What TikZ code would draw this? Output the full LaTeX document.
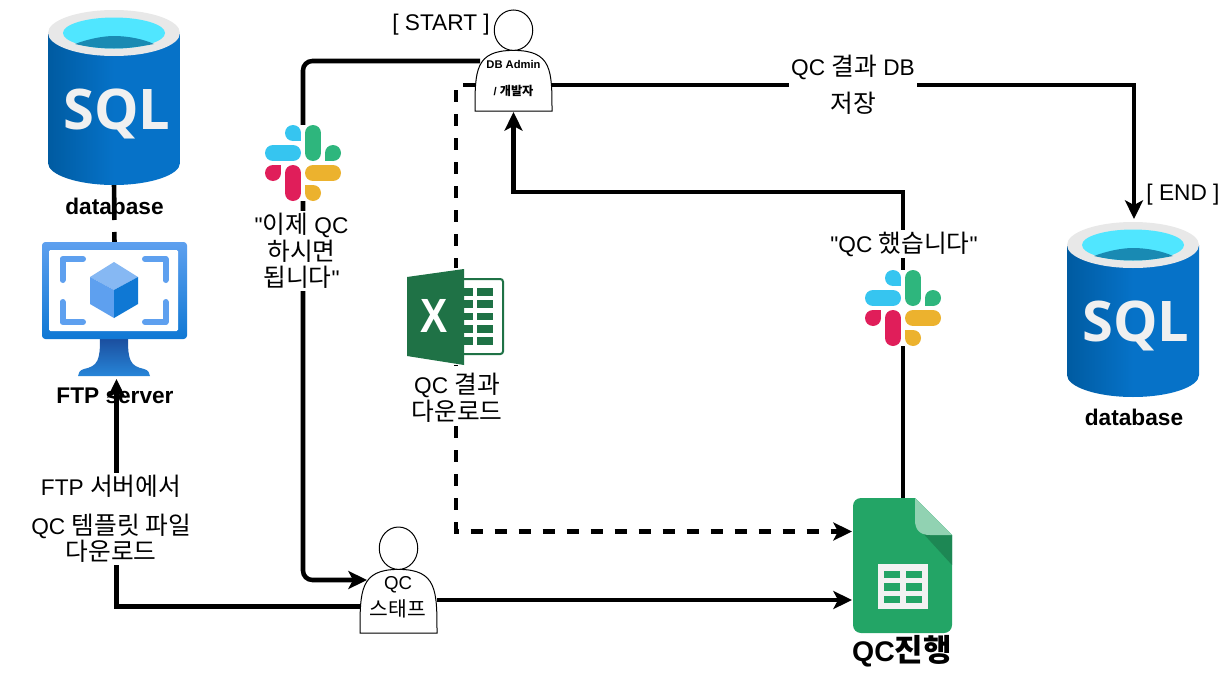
\documentclass[tikz,border=0pt]{standalone}
\usepackage{fontspec}
\usepackage{graphicx}
\setmainfont[Ligatures=TeXOff]{Liberation Sans}
\newfontfamily\kr[Scale=1.09]{Noto Sans CJK KR}
\newfontfamily\sqlfont{Open Sans}
\usetikzlibrary{arrows.meta}
\definecolor{slblue}{HTML}{36C5F0}
\definecolor{slgreen}{HTML}{2EB67D}
\definecolor{slred}{HTML}{E01E5A}
\definecolor{slyellow}{HTML}{ECB22E}
\definecolor{azlight}{HTML}{5EA0EF}
\definecolor{azdark}{HTML}{0F78D4}
\definecolor{azstand}{HTML}{1B4F9F}
\definecolor{xlgreen}{HTML}{1F7246}
\definecolor{shgreen}{HTML}{23A566}
\definecolor{sqlleft}{HTML}{005BA1}
\definecolor{sqlmid}{HTML}{0672C8}
\definecolor{sqlcyan}{HTML}{50E6FF}
\definecolor{sqlwater}{HTML}{198AB3}
\tikzset{
  conn/.style={line width=3.4pt,draw=black,-{Stealth[length=14pt,width=13.5pt,inset=3.5pt]}},
  plainconn/.style={line width=3.4pt,draw=black},
  bx/.style 2 args={minimum width=#1*0.75pt,minimum height=#2*0.75pt,inner sep=0pt,outer sep=0pt},
  lbl/.style={fill=white,inner sep=1.5pt,align=center,font=\fontsize{17}{20}\selectfont},
  txt/.style={inner sep=0pt,align=center,font=\fontsize{17}{20}\selectfont},
  btxt/.style={inner sep=0pt,align=center,font=\fontsize{17}{20}\selectfont\bfseries},
  sqlicon/.pic={
    \shade[left color=sqlleft,right color=sqlmid,middle color=sqlmid] (0,23) -- (0,153) .. controls (0,165) and (30,175) .. (66,175) .. controls (102,175) and (132,165) .. (132,153) -- (132,23) -- cycle;
    \fill[black!9] (66,23) ellipse[x radius=66,y radius=23];
    \fill[sqlcyan] (66,23) ellipse[x radius=51,y radius=15.5];
    \fill[sqlwater] (27,34) .. controls (40,29) and (55,26) .. (66,26) .. controls (80,26) and (95,29) .. (106,34) .. controls (90,37) and (80,38.5) .. (66,38.5) .. controls (52,38.5) and (40,37) .. (27,34) -- cycle;
    \node[inner sep=0pt,text=black!6] at (69,104) {\fontsize{42}{42}\sqlfont\bfseries SQL};
  },
  slackicon/.pic={
    \fill[white] (-38,-38) rectangle (38,38);
    \draw[line width=12pt,line cap=round,slblue] (-30,-10) -- (-10,-10);
    \fill[slblue] (-10,-30) circle[radius=8];
    \fill[slblue] (-10,-30) rectangle (-2,-22);
    \draw[line width=12pt,line cap=round,slgreen] (10,-30) -- (10,-10);
    \fill[slgreen] (30,-10) circle[radius=8];
    \fill[slgreen] (22,-10) rectangle (30,-2);
    \draw[line width=12pt,line cap=round,slred] (-10,10) -- (-10,30);
    \fill[slred] (-30,10) circle[radius=8];
    \fill[slred] (-30,2) rectangle (-22,10);
    \draw[line width=12pt,line cap=round,slyellow] (10,10) -- (30,10);
    \fill[slyellow] (10,30) circle[radius=8];
    \fill[slyellow] (2,22) rectangle (10,30);
  }
}
\newcommand{\myactor}[4]{%
  \filldraw[fill=white,draw=black,line width=0.75pt]
    ({#1},{#2+#4}) .. controls ({#1},{#2+0.6*#4}) and ({#1},{#2+0.4*#4}) .. ({#1+0.5*#3},{#2+0.4*#4})
    .. controls ({#1+#3},{#2+0.4*#4}) and ({#1+#3},{#2+0.6*#4}) .. ({#1+#3},{#2+#4}) -- cycle;
  \filldraw[fill=white,draw=black,line width=0.75pt]
    ({#1+0.5*#3},{#2+0.2*#4}) ellipse[x radius={0.25*#3},y radius={0.2*#4}];
}
\begin{document}
\begin{tikzpicture}[x=0.75pt,y=-0.75pt]
\useasboundingbox (0,0) rectangle (1229,678);
% anchors
\node[bx={132}{175}] (dbA) at (114,97.5) {};
\node[bx={132}{175}] (dbB) at (1133,309.5) {};
\node[bx={145}{134}] (ftp) at (114.5,309) {};
\node[bx={77}{101}] (admin) at (513.5,60.5) {};
\node[bx={77}{106}] (staff) at (398.5,580) {};
\node[bx={99}{135}] (sheet) at (902.5,565.5) {};
\coordinate (adminL) at (480,61);
\coordinate (adminR) at (552,85);
\coordinate (adminD) at (475,85);
\coordinate (adminB) at (513.5,112);
\coordinate (staffL) at (360,606.5);
\coordinate (staffR) at (437,600);
\coordinate (staffIn) at (367,580);
\coordinate (ftpIn) at (116.5,379);
\coordinate (sheetA) at (852,531.5);
\coordinate (sheetB) at (852,600);
\coordinate (sheetT) at (903,498);
\coordinate (dbIn) at (1134,219);
% connectors
\draw[plainconn,dash pattern=on 26.25pt off 9pt on 9pt] (dbA.south) -- (ftp.north);
\draw[conn] (staffL) -- (116.5,606.5) -- (ftpIn);
\draw[conn,rounded corners=7pt] (adminL) -- (303,61) -- (303,580) -- (staffIn);
\draw[conn,dash pattern=on 9pt off 9pt] (adminD) -- (456,85) -- (456,531.5) -- (sheetA);
\draw[conn] (adminR) -- (1134,85) -- (dbIn);
\draw[conn] (sheetT) -- (903,192) -- (513.5,192) -- (adminB);
\draw[conn] (staffR) -- (sheetB);
% SQL icons
\pic at (48,10) {sqlicon};
\pic at (1067,222) {sqlicon};
% FTP icon
\shade[top color=azstand,bottom color=azdark!90!white] (100,339) .. controls (100,360) and (98,366) .. (84,369) .. controls (80,370) and (78,373) .. (78,376) -- (150,376) .. controls (150,373) and (148,370) .. (144,369) .. controls (130,366) and (128,360) .. (128,339) -- cycle;
\shade[top color=azlight,bottom color=azdark,rounded corners=2.5pt] (42,242) rectangle (187,339);
\fill[white,rounded corners=1pt] (49,250) rectangle (178,331);
\draw[azlight,line width=4.5pt,line join=round,line cap=round] (83,259) -- (62.5,259) -- (62.5,280);
\draw[azlight,line width=4.5pt,line join=round,line cap=round] (145,259) -- (165.5,259) -- (165.5,280);
\draw[azlight,line width=4.5pt,line join=round,line cap=round] (62.5,302) -- (62.5,322) -- (83,322);
\draw[azlight,line width=4.5pt,line join=round,line cap=round] (165.5,302) -- (165.5,322) -- (145,322);
\fill[azlight!75!white] (114,262) -- (138,277) -- (114,290) -- (90,277) -- cycle;
\fill[azlight] (90,277) -- (114,290) -- (114,318) -- (90,304) -- cycle;
\fill[azdark] (138,277) -- (114,290) -- (114,318) -- (138,304) -- cycle;
% Slack icons
\pic at (303,163) {slackicon};
\pic at (903,308) {slackicon};
% Excel icon
\fill[white] (407,268) rectangle (504,365);
\filldraw[draw=xlgreen,fill=white,line width=1.5pt,rounded corners=2pt] (460,279) rectangle (503,354);
\foreach \ya/\yb in {288/296,300/308,313/320,325/333,337/345}{
  \fill[xlgreen] (464,\ya) rectangle (473,\yb);
  \fill[xlgreen] (477,\ya) rectangle (493,\yb);
}
\fill[xlgreen] (407,277) -- (464,269) -- (464,365) -- (407,356) -- cycle;
\node[inner sep=0pt,text=white] at (434.5,316) {\scalebox{0.85}[1]{\fontsize{36}{36}\selectfont\bfseries X}};
% Sheets icon
\fill[shgreen] (915,498) [sharp corners] -- (952,535) [rounded corners=6pt] -- (952,633) -- (853,633) -- (853,498) [sharp corners] -- cycle;
\fill[shgreen!82!black] (920,530) -- (930,535) -- (952,535) -- (952,565) -- cycle;
\fill[shgreen!50!white] (915,498) -- (952,535) -- (930,535) .. controls (920,535) and (915,530) .. (915,520) -- cycle;
\fill[black!5] (878,564) rectangle (928,609);
\foreach \ya/\yb in {571/578,583/591,596/603}{
  \fill[shgreen] (884,\ya) rectangle (900,\yb);
  \fill[shgreen] (906,\ya) rectangle (922,\yb);
}
% actors
\myactor{475}{10}{77}{101}
\myactor{360}{527}{77}{106}
% labels
\node[txt] (tStart) at (441,25) {[ START ]};
\node[txt] (tEnd) at (1183,195) {[ END ]};
\node[lbl] (tSave) at (853,85) {QC {\kr 결과} DB\\[7.5pt]{\kr 저장}};
\node[lbl] (tNow) at (301.5,251) {"{\kr 이제} QC\\{\kr 하시면}\\{\kr 됩니다}"};
\node[lbl] (tDid) at (904,244) {"QC {\kr 했습니다}"};
\node[lbl] (tDown) at (457,397.5) {QC {\kr 결과}\\{\kr 다운로드}};
\node[lbl] (tFtp) at (111,519) {FTP {\kr 서버에서}\\[9pt]QC {\kr 템플릿 파일}\\{\kr 다운로드}};
\node[btxt] (tDbA) at (114.5,206) {database};
\node[btxt] (tDbB) at (1134,417) {database};
\node[btxt] (tFtpS) at (115,396) {FTP server};
\node[inner sep=0pt,font=\fontsize{21.3}{24}\selectfont\bfseries] (tQc) at (902,651) {QC{\kr 진행}};
\node[inner sep=0pt,align=center,font=\fontsize{8.4}{10}\selectfont\bfseries] (tAdm) at (513.5,78.5) {DB Admin\\[10pt]/ {\kr 개발자}};
\node[inner sep=0pt,align=center,font=\fontsize{14}{20}\selectfont] (tStaff) at (398,597) {QC\\{\kr 스태프}};
\end{tikzpicture}
\end{document}
